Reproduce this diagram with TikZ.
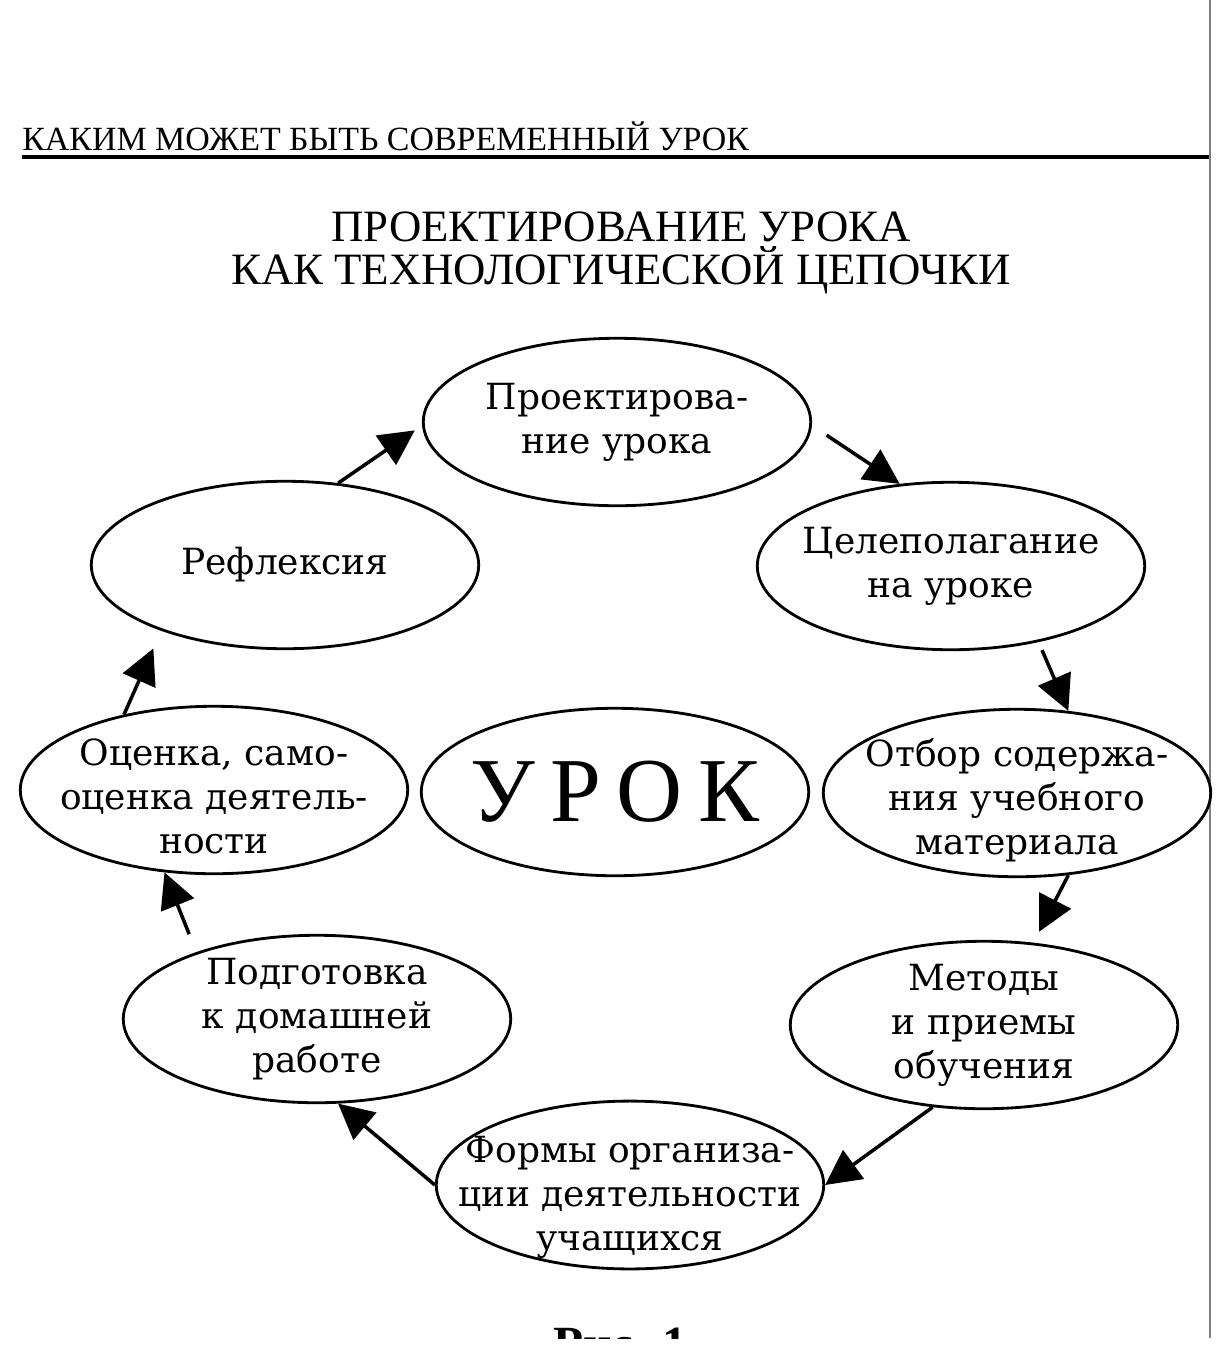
\documentclass[tikz,border=0pt]{standalone}
\usepackage{fontspec}
\setmainfont{Liberation Serif}
\newfontfamily\ovalfont{DejaVu Serif}
\usetikzlibrary{arrows.meta,shapes.geometric}

\newcommand{\lowtext}[1]{\rule{0pt}{#1}}
\tikzset{
  oval/.style={ellipse, draw, line width=1.6pt, minimum width=7.75cm, minimum height=3.35cm,
    inner xsep=-25pt, inner ysep=-8pt, align=center, font=\ovalfont\fontsize{20.5}{25}\selectfont},
  arr/.style={-{Triangle[length=20pt,width=20pt]}, line width=2pt},
}

\begin{document}
\begin{tikzpicture}[x=0.02cm,y=-0.02cm]
  \useasboundingbox (0,0) rectangle (1227,1349);
  % page header and title
  \draw (22,150) node[anchor=base west, inner sep=0pt, font=\fontsize{19.3}{22}\selectfont] (header) {КАКИМ МОЖЕТ БЫТЬ СОВРЕМЕННЫЙ УРОК};
  \draw[line width=1.8pt] (22,157) -- (1210,157);
  \draw[gray, line width=1pt] (1210,0) -- (1210,1338);
  \draw (621,253) node[align=center, font=\fontsize{25.5}{24.5}\selectfont] (title) {ПРОЕКТИРОВАНИЕ УРОКА\\КАК ТЕХНОЛОГИЧЕСКОЙ ЦЕПОЧКИ};

  % the chain
  \draw (617,422) node[oval] (proekt) {Проектирова-\\ние урока};
  \draw (951,566) node[oval] (celi) {Целеполагание\\на уроке};
  \draw (1017,793) node[oval] (otbor) {\lowtext{24.5pt}Отбор содержа-\\ния учебного\\материала};
  \draw (984,1025) node[oval] (metody) {Методы\\и приемы\\обучения};
  \draw (630,1185) node[oval] (formy) {\lowtext{29pt}Формы организа-\\ции деятельности\\учащихся};
  \draw (317,1019) node[oval] (podgot) {Подготовка\\к домашней\\работе};
  \draw (214,790) node[oval] (ocenka) {\lowtext{22.5pt}Оценка, само-\\оценка деятель-\\ности};
  \draw (285,565) node[oval] (reflex) {Рефлексия};
  \draw (615,792) node[oval, font=\fontsize{52}{60}\selectfont] (urok) {У\,Р\,О\,К};

  \path[arr] (reflex.57) edge[shorten >=5pt] (proekt.181);
  \path[arr] (proekt.-1) edge[shorten <=10pt] (celi.122);
  \path[arr] (celi.-41) edge[shorten <=5pt] (otbor.58);
  \path[arr] (otbor.-58) edge[shorten >=7pt] (metody.59);
  \path[arr] (metody.-122) edge (formy.0);
  \path[arr] (formy.180) edge (podgot.-76);
  \path[arr] (podgot.151) edge[shorten <=11pt] (ocenka.-121);
  \path[arr] (ocenka.140) edge[shorten >=11pt] (reflex.-152);

  % caption, cut off at the page edge
  \begin{scope}
    \clip (0,0) rectangle (1227,1338);
    \draw (620,1360) node[anchor=base, font=\bfseries\fontsize{28}{30}\selectfont] (ris) {Рис. 1};
  \end{scope}
\end{tikzpicture}
\end{document}
